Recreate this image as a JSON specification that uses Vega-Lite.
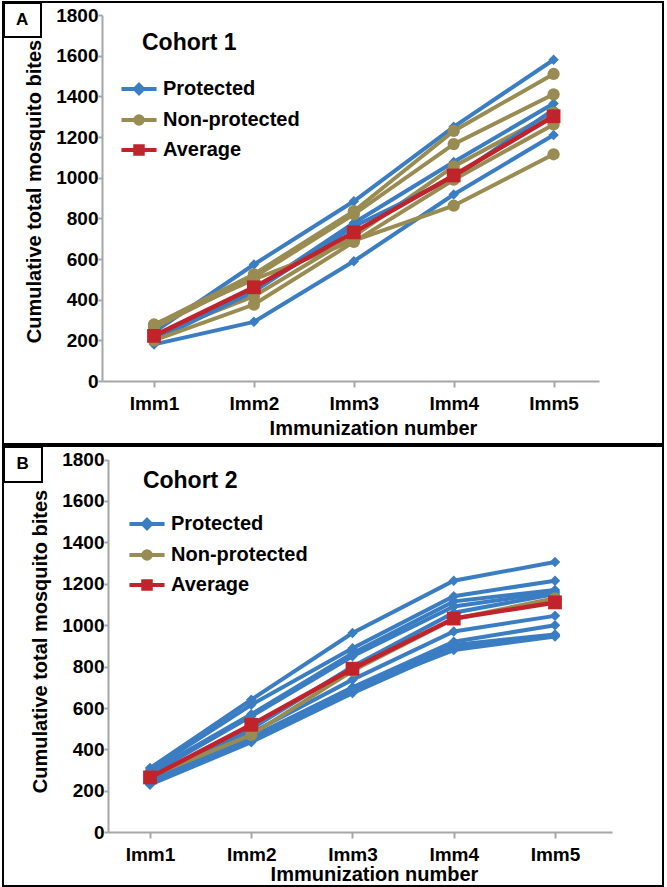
{
  "$schema": "https://vega.github.io/schema/vega-lite/v6.json",
  "background": "white",
  "padding": {"left": 1, "top": 1, "right": 6, "bottom": 4},
  "spacing": 0,
  "datasets": {
    "bites": [
    {"cohort":1,"subject":"P1","group":"Protected","imm":1,"bites":240},
    {"cohort":1,"subject":"P1","group":"Protected","imm":2,"bites":573},
    {"cohort":1,"subject":"P1","group":"Protected","imm":3,"bites":884},
    {"cohort":1,"subject":"P1","group":"Protected","imm":4,"bites":1250},
    {"cohort":1,"subject":"P1","group":"Protected","imm":5,"bites":1580},
    {"cohort":1,"subject":"N1","group":"Non-protected","imm":1,"bites":275},
    {"cohort":1,"subject":"N1","group":"Non-protected","imm":2,"bites":525},
    {"cohort":1,"subject":"N1","group":"Non-protected","imm":3,"bites":835},
    {"cohort":1,"subject":"N1","group":"Non-protected","imm":4,"bites":1230},
    {"cohort":1,"subject":"N1","group":"Non-protected","imm":5,"bites":1510},
    {"cohort":1,"subject":"P2","group":"Protected","imm":1,"bites":210},
    {"cohort":1,"subject":"P2","group":"Protected","imm":2,"bites":450},
    {"cohort":1,"subject":"P2","group":"Protected","imm":3,"bites":777},
    {"cohort":1,"subject":"P2","group":"Protected","imm":4,"bites":1077},
    {"cohort":1,"subject":"P2","group":"Protected","imm":5,"bites":1365},
    {"cohort":1,"subject":"N2","group":"Non-protected","imm":1,"bites":262},
    {"cohort":1,"subject":"N2","group":"Non-protected","imm":2,"bites":510},
    {"cohort":1,"subject":"N2","group":"Non-protected","imm":3,"bites":820},
    {"cohort":1,"subject":"N2","group":"Non-protected","imm":4,"bites":1165},
    {"cohort":1,"subject":"N2","group":"Non-protected","imm":5,"bites":1410},
    {"cohort":1,"subject":"P3","group":"Protected","imm":1,"bites":180},
    {"cohort":1,"subject":"P3","group":"Protected","imm":2,"bites":291},
    {"cohort":1,"subject":"P3","group":"Protected","imm":3,"bites":589},
    {"cohort":1,"subject":"P3","group":"Protected","imm":4,"bites":917},
    {"cohort":1,"subject":"P3","group":"Protected","imm":5,"bites":1210},
    {"cohort":1,"subject":"N3","group":"Non-protected","imm":1,"bites":225},
    {"cohort":1,"subject":"N3","group":"Non-protected","imm":2,"bites":417},
    {"cohort":1,"subject":"N3","group":"Non-protected","imm":3,"bites":712},
    {"cohort":1,"subject":"N3","group":"Non-protected","imm":4,"bites":1055},
    {"cohort":1,"subject":"N3","group":"Non-protected","imm":5,"bites":1320},
    {"cohort":1,"subject":"P4","group":"Protected","imm":1,"bites":200},
    {"cohort":1,"subject":"P4","group":"Protected","imm":2,"bites":440},
    {"cohort":1,"subject":"P4","group":"Protected","imm":3,"bites":760},
    {"cohort":1,"subject":"P4","group":"Protected","imm":4,"bites":1000},
    {"cohort":1,"subject":"P4","group":"Protected","imm":5,"bites":1335},
    {"cohort":1,"subject":"N4","group":"Non-protected","imm":1,"bites":200},
    {"cohort":1,"subject":"N4","group":"Non-protected","imm":2,"bites":376},
    {"cohort":1,"subject":"N4","group":"Non-protected","imm":3,"bites":684},
    {"cohort":1,"subject":"N4","group":"Non-protected","imm":4,"bites":990},
    {"cohort":1,"subject":"N4","group":"Non-protected","imm":5,"bites":1262},
    {"cohort":1,"subject":"N5","group":"Non-protected","imm":1,"bites":278},
    {"cohort":1,"subject":"N5","group":"Non-protected","imm":2,"bites":500},
    {"cohort":1,"subject":"N5","group":"Non-protected","imm":3,"bites":690},
    {"cohort":1,"subject":"N5","group":"Non-protected","imm":4,"bites":862},
    {"cohort":1,"subject":"N5","group":"Non-protected","imm":5,"bites":1115},
    {"cohort":1,"subject":"AVG","group":"Average","imm":1,"bites":222},
    {"cohort":1,"subject":"AVG","group":"Average","imm":2,"bites":461},
    {"cohort":1,"subject":"AVG","group":"Average","imm":3,"bites":731},
    {"cohort":1,"subject":"AVG","group":"Average","imm":4,"bites":1011},
    {"cohort":1,"subject":"AVG","group":"Average","imm":5,"bites":1302},
    {"cohort":2,"subject":"P1","group":"Protected","imm":1,"bites":310},
    {"cohort":2,"subject":"P1","group":"Protected","imm":2,"bites":640},
    {"cohort":2,"subject":"P1","group":"Protected","imm":3,"bites":962},
    {"cohort":2,"subject":"P1","group":"Protected","imm":4,"bites":1215},
    {"cohort":2,"subject":"P1","group":"Protected","imm":5,"bites":1305},
    {"cohort":2,"subject":"P2","group":"Protected","imm":1,"bites":300},
    {"cohort":2,"subject":"P2","group":"Protected","imm":2,"bites":616},
    {"cohort":2,"subject":"P2","group":"Protected","imm":3,"bites":889},
    {"cohort":2,"subject":"P2","group":"Protected","imm":4,"bites":1140},
    {"cohort":2,"subject":"P2","group":"Protected","imm":5,"bites":1215},
    {"cohort":2,"subject":"P3","group":"Protected","imm":1,"bites":290},
    {"cohort":2,"subject":"P3","group":"Protected","imm":2,"bites":570},
    {"cohort":2,"subject":"P3","group":"Protected","imm":3,"bites":865},
    {"cohort":2,"subject":"P3","group":"Protected","imm":4,"bites":1115},
    {"cohort":2,"subject":"P3","group":"Protected","imm":5,"bites":1170},
    {"cohort":2,"subject":"P4","group":"Protected","imm":1,"bites":280},
    {"cohort":2,"subject":"P4","group":"Protected","imm":2,"bites":560},
    {"cohort":2,"subject":"P4","group":"Protected","imm":3,"bites":850},
    {"cohort":2,"subject":"P4","group":"Protected","imm":4,"bites":1090},
    {"cohort":2,"subject":"P4","group":"Protected","imm":5,"bites":1160},
    {"cohort":2,"subject":"P5","group":"Protected","imm":1,"bites":260},
    {"cohort":2,"subject":"P5","group":"Protected","imm":2,"bites":500},
    {"cohort":2,"subject":"P5","group":"Protected","imm":3,"bites":800},
    {"cohort":2,"subject":"P5","group":"Protected","imm":4,"bites":1060},
    {"cohort":2,"subject":"P5","group":"Protected","imm":5,"bites":1150},
    {"cohort":2,"subject":"P6","group":"Protected","imm":1,"bites":250},
    {"cohort":2,"subject":"P6","group":"Protected","imm":2,"bites":480},
    {"cohort":2,"subject":"P6","group":"Protected","imm":3,"bites":737},
    {"cohort":2,"subject":"P6","group":"Protected","imm":4,"bites":970},
    {"cohort":2,"subject":"P6","group":"Protected","imm":5,"bites":1045},
    {"cohort":2,"subject":"P7","group":"Protected","imm":1,"bites":240},
    {"cohort":2,"subject":"P7","group":"Protected","imm":2,"bites":460},
    {"cohort":2,"subject":"P7","group":"Protected","imm":3,"bites":700},
    {"cohort":2,"subject":"P7","group":"Protected","imm":4,"bites":920},
    {"cohort":2,"subject":"P7","group":"Protected","imm":5,"bites":1000},
    {"cohort":2,"subject":"P8","group":"Protected","imm":1,"bites":235},
    {"cohort":2,"subject":"P8","group":"Protected","imm":2,"bites":447},
    {"cohort":2,"subject":"P8","group":"Protected","imm":3,"bites":680},
    {"cohort":2,"subject":"P8","group":"Protected","imm":4,"bites":905},
    {"cohort":2,"subject":"P8","group":"Protected","imm":5,"bites":955},
    {"cohort":2,"subject":"P9","group":"Protected","imm":1,"bites":230},
    {"cohort":2,"subject":"P9","group":"Protected","imm":2,"bites":435},
    {"cohort":2,"subject":"P9","group":"Protected","imm":3,"bites":672},
    {"cohort":2,"subject":"P9","group":"Protected","imm":4,"bites":890},
    {"cohort":2,"subject":"P9","group":"Protected","imm":5,"bites":950},
    {"cohort":2,"subject":"P10","group":"Protected","imm":1,"bites":245},
    {"cohort":2,"subject":"P10","group":"Protected","imm":2,"bites":455},
    {"cohort":2,"subject":"P10","group":"Protected","imm":3,"bites":690},
    {"cohort":2,"subject":"P10","group":"Protected","imm":4,"bites":880},
    {"cohort":2,"subject":"P10","group":"Protected","imm":5,"bites":945},
    {"cohort":2,"subject":"N1","group":"Non-protected","imm":1,"bites":270},
    {"cohort":2,"subject":"N1","group":"Non-protected","imm":2,"bites":470},
    {"cohort":2,"subject":"N1","group":"Non-protected","imm":3,"bites":780},
    {"cohort":2,"subject":"N1","group":"Non-protected","imm":4,"bites":1030},
    {"cohort":2,"subject":"N1","group":"Non-protected","imm":5,"bites":1130},
    {"cohort":2,"subject":"AVG","group":"Average","imm":1,"bites":265},
    {"cohort":2,"subject":"AVG","group":"Average","imm":2,"bites":519},
    {"cohort":2,"subject":"AVG","group":"Average","imm":3,"bites":790},
    {"cohort":2,"subject":"AVG","group":"Average","imm":4,"bites":1032},
    {"cohort":2,"subject":"AVG","group":"Average","imm":5,"bites":1110}
    ],
    "panelA": [{"panel": "A", "cohort": "Cohort 1"}],
    "panelB": [{"panel": "B", "cohort": "Cohort 2"}]
  },
  "resolve": {"scale": {"x": "independent", "y": "independent", "color": "independent"}, "legend": {"color": "independent"}},
  "vconcat": [
    {
      "width": 660,
      "height": 442,
      "layer": [
        {
          "data": {"name": "panelA"},
          "mark": {"type": "rect", "fill": "white", "stroke": "black", "strokeWidth": 2},
          "encoding": {
            "x": {"datum": -0.5015, "type": "quantitative", "scale": {"domain": [0.4795, 5.4545], "range": [99, 596], "nice": false, "zero": false}},
            "x2": {"datum": -0.1311},
            "y": {"datum": 1859, "type": "quantitative", "scale": {"domain": [0, 1800], "range": [379, 13], "nice": false, "zero": false}},
            "y2": {"datum": 1692}
          }
        },
        {
          "data": {"name": "panelA"},
          "mark": {"type": "text", "font": "Liberation Sans", "fontSize": 17, "fontWeight": "bold", "color": "black", "align": "center", "baseline": "middle"},
          "encoding": {"x": {"datum": -0.321, "type": "quantitative"}, "y": {"datum": 1775, "type": "quantitative"}, "text": {"field": "panel"}}
        },
        {
          "data": {"name": "panelA"},
          "mark": {"type": "text", "font": "Liberation Sans", "fontSize": 23, "fontWeight": "bold", "color": "black", "align": "left", "baseline": "middle"},
          "encoding": {"x": {"datum": 0.88, "type": "quantitative"}, "y": {"datum": 1662, "type": "quantitative"}, "text": {"field": "cohort"}}
        },
        {
          "data": {"name": "bites"},
          "transform": [{"filter": "datum.cohort === 1"}],
          "encoding": {
            "x": {"field": "imm", "type": "quantitative",
              "axis": {"values": [1,2,3,4,5], "labelExpr": "'Imm' + datum.value", "offset": -63, "tickSize": 6, "labelPadding": 7, "labelFlush": false, "title": "Immunization number", "titleX": 370, "titlePadding": 5}},
            "y": {"field": "bites", "type": "quantitative",
              "axis": {"values": [0,200,400,600,800,1000,1200,1400,1600,1800], "format": "d", "offset": -99, "tickSize": 4, "labelPadding": 0, "title": "Cumulative total mosquito bites", "titleY": 189, "titlePadding": 11}}
          },
          "layer": [
            {
              "transform": [{"filter": "datum.group !== 'Average'"}],
              "mark": {"type": "line", "strokeWidth": 4},
              "encoding": {
                "detail": {"field": "subject"},
                "color": {"field": "group", "type": "nominal",
                  "scale": {"domain": ["Protected", "Non-protected", "Average"], "range": ["#3a7dc2", "#998c52", "#c1232b"]},
                  "legend": {"orient": "none", "legendX": 119, "legendY": 70, "title": null, "padding": 0, "symbolSize": 900, "labelFont": "Liberation Sans", "labelFontSize": 20, "labelFontWeight": "bold", "labelColor": "black", "labelOffset": 7, "rowPadding": 1,
                    "encode": {"symbols": {"update": {
                      "shape": {"signal": "datum.value === 'Protected' ? 'M-1.17,0L1.17,0M0,-0.27L0.27,0L0,0.27L-0.27,0Z' : datum.value === 'Non-protected' ? 'M-1.17,0L1.17,0M-0.25,0A0.25,0.25,0,1,0,0.25,0A0.25,0.25,0,1,0,-0.25,0Z' : 'M-1.17,0L1.17,0M-0.25,-0.25L0.25,-0.25L0.25,0.25L-0.25,0.25Z'"},
                      "fill": {"signal": "datum.value === 'Protected' ? '#3a7dc2' : datum.value === 'Non-protected' ? '#998c52' : '#c1232b'"},
                      "stroke": {"signal": "datum.value === 'Protected' ? '#3a7dc2' : datum.value === 'Non-protected' ? '#998c52' : '#c1232b'"},
                      "strokeWidth": {"value": 4},
                      "opacity": {"value": 1}
                    }}}}
                }
              }
            },
            {
              "transform": [{"filter": "datum.group === 'Protected'"}],
              "mark": {"type": "point", "shape": "diamond", "filled": true, "size": 110, "opacity": 1, "color": "#3a7dc2"}
            },
            {
              "transform": [{"filter": "datum.group === 'Non-protected'"}],
              "mark": {"type": "point", "shape": "circle", "filled": true, "size": 150, "opacity": 1, "color": "#998c52"}
            },
            {
              "transform": [{"filter": "datum.group === 'Average'"}],
              "mark": {"type": "line", "strokeWidth": 4.5, "color": "#c1232b"}
            },
            {
              "transform": [{"filter": "datum.group === 'Average'"}],
              "mark": {"type": "point", "shape": "square", "filled": true, "size": 190, "opacity": 1, "color": "#c1232b"}
            }
          ]
        }
      ]
    },
    {
      "width": 660,
      "height": 440,
      "layer": [
        {
          "data": {"name": "panelB"},
          "mark": {"type": "rect", "fill": "white", "stroke": "black", "strokeWidth": 2},
          "encoding": {
            "x": {"datum": -0.442, "type": "quantitative", "scale": {"domain": [0.5852, 5.563], "range": [105, 609], "nice": false, "zero": false}},
            "x2": {"datum": -0.0667},
            "y": {"datum": 1860, "type": "quantitative", "scale": {"domain": [0, 1800], "range": [386.3, 13.5], "nice": false, "zero": false}},
            "y2": {"datum": 1691}
          }
        },
        {
          "data": {"name": "panelB"},
          "mark": {"type": "text", "font": "Liberation Sans", "fontSize": 17, "fontWeight": "bold", "color": "black", "align": "center", "baseline": "middle"},
          "encoding": {"x": {"datum": -0.259, "type": "quantitative"}, "y": {"datum": 1778, "type": "quantitative"}, "text": {"field": "panel"}}
        },
        {
          "data": {"name": "panelB"},
          "mark": {"type": "text", "font": "Liberation Sans", "fontSize": 23, "fontWeight": "bold", "color": "black", "align": "left", "baseline": "middle"},
          "encoding": {"x": {"datum": 0.93, "type": "quantitative"}, "y": {"datum": 1695, "type": "quantitative"}, "text": {"field": "cohort"}}
        },
        {
          "data": {"name": "bites"},
          "transform": [{"filter": "datum.cohort === 2"}],
          "encoding": {
            "x": {"field": "imm", "type": "quantitative",
              "axis": {"values": [1,2,3,4,5], "labelExpr": "'Imm' + datum.value", "offset": -54, "tickSize": 6, "labelPadding": 7, "labelFlush": false, "title": "Immunization number", "titleX": 371, "titlePadding": 0}},
            "y": {"field": "bites", "type": "quantitative",
              "axis": {"values": [0,200,400,600,800,1000,1200,1400,1600,1800], "format": "d", "offset": -105, "tickSize": 4, "labelPadding": 0, "title": "Cumulative total mosquito bites", "titleY": 195, "titlePadding": 11}}
          },
          "layer": [
            {
              "transform": [{"filter": "datum.group !== 'Average'"}],
              "mark": {"type": "line", "strokeWidth": 4},
              "encoding": {
                "detail": {"field": "subject"},
                "color": {"field": "group", "type": "nominal",
                  "scale": {"domain": ["Protected", "Non-protected", "Average"], "range": ["#3a7dc2", "#998c52", "#c1232b"]},
                  "legend": {"orient": "none", "legendX": 127, "legendY": 61, "title": null, "padding": 0, "symbolSize": 900, "labelFont": "Liberation Sans", "labelFontSize": 20, "labelFontWeight": "bold", "labelColor": "black", "labelOffset": 7, "rowPadding": 1,
                    "encode": {"symbols": {"update": {
                      "shape": {"signal": "datum.value === 'Protected' ? 'M-1.17,0L1.17,0M0,-0.27L0.27,0L0,0.27L-0.27,0Z' : datum.value === 'Non-protected' ? 'M-1.17,0L1.17,0M-0.25,0A0.25,0.25,0,1,0,0.25,0A0.25,0.25,0,1,0,-0.25,0Z' : 'M-1.17,0L1.17,0M-0.25,-0.25L0.25,-0.25L0.25,0.25L-0.25,0.25Z'"},
                      "fill": {"signal": "datum.value === 'Protected' ? '#3a7dc2' : datum.value === 'Non-protected' ? '#998c52' : '#c1232b'"},
                      "stroke": {"signal": "datum.value === 'Protected' ? '#3a7dc2' : datum.value === 'Non-protected' ? '#998c52' : '#c1232b'"},
                      "strokeWidth": {"value": 4},
                      "opacity": {"value": 1}
                    }}}}
                }
              }
            },
            {
              "transform": [{"filter": "datum.group === 'Protected'"}],
              "mark": {"type": "point", "shape": "diamond", "filled": true, "size": 110, "opacity": 1, "color": "#3a7dc2"}
            },
            {
              "transform": [{"filter": "datum.group === 'Non-protected'"}],
              "mark": {"type": "point", "shape": "circle", "filled": true, "size": 150, "opacity": 1, "color": "#998c52"}
            },
            {
              "transform": [{"filter": "datum.group === 'Average'"}],
              "mark": {"type": "line", "strokeWidth": 4.5, "color": "#c1232b"}
            },
            {
              "transform": [{"filter": "datum.group === 'Average'"}],
              "mark": {"type": "point", "shape": "square", "filled": true, "size": 190, "opacity": 1, "color": "#c1232b"}
            }
          ]
        }
      ]
    }
  ],
  "config": {
    "font": "Liberation Sans",
    "view": {"stroke": "black", "strokeWidth": 2},
    "axis": {"grid": false, "domainColor": "#a6a6a6", "domainWidth": 2, "tickColor": "#a6a6a6", "tickWidth": 2,
      "labelFont": "Liberation Sans", "labelFontSize": 19, "labelFontWeight": "bold", "labelColor": "black",
      "titleFont": "Liberation Sans", "titleFontSize": 20, "titleFontWeight": "bold", "titleColor": "black", "labelOverlap": false, "labelBound": false}
  }
}
